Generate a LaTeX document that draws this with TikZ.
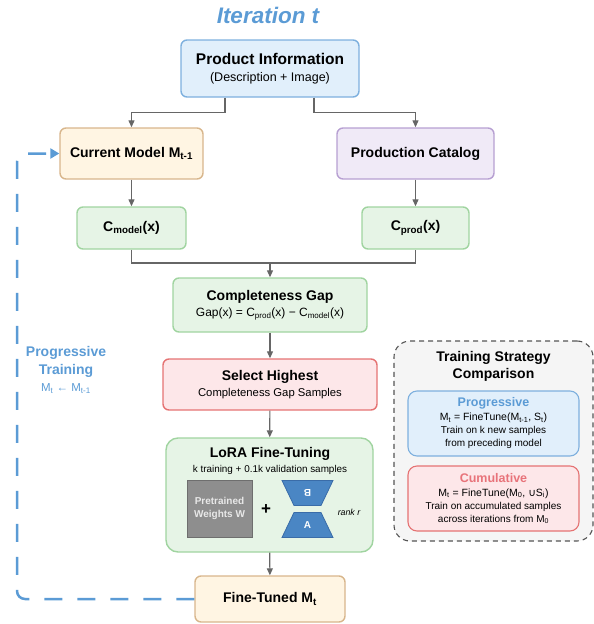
\documentclass[tikz,border=0pt]{standalone}
\usepackage{fontspec}
\setmainfont{Liberation Sans}
\newfontfamily\symfont{DejaVu Sans}
\usetikzlibrary{arrows.meta,shapes.geometric}

\definecolor{itblue}{RGB}{91,155,213}
\definecolor{flowgray}{RGB}{102,102,102}
\definecolor{infofill}{RGB}{225,239,251}
\definecolor{infoline}{RGB}{126,176,222}
\definecolor{modelfill}{RGB}{255,245,227}
\definecolor{modelline}{RGB}{216,182,140}
\definecolor{catfill}{RGB}{240,234,247}
\definecolor{catline}{RGB}{183,160,210}
\definecolor{gapfill}{RGB}{230,244,230}
\definecolor{gapline}{RGB}{160,212,160}
\definecolor{selfill}{RGB}{253,231,233}
\definecolor{selline}{RGB}{229,115,115}
\definecolor{cumred}{RGB}{232,115,122}
\definecolor{stratfill}{RGB}{245,245,245}
\definecolor{stratline}{RGB}{85,85,85}
\definecolor{wfill}{RGB}{142,142,142}
\definecolor{wline}{RGB}{110,110,110}
\definecolor{abfill}{RGB}{74,134,196}
\definecolor{abline}{RGB}{58,108,168}

\newcommand{\fsz}[2]{\fontsize{#1}{#2}\selectfont}
\newcommand{\sub}[1]{\textsubscript{#1}}

\tikzset{
  box/.style={draw,line width=1.4pt,rounded corners=6pt,align=center,inner sep=0pt},
  flow/.style={draw=flowgray,line width=1.2pt,-{Triangle[length=7pt,width=6pt]}},
  link/.style={draw=flowgray,line width=1.2pt},
  loopback/.style={draw=itblue,line width=2.5pt,dash pattern=on 18pt off 15pt,
    rounded corners=8pt,-{Triangle[length=9pt,width=10pt]}},
  lorablock/.style={trapezium,trapezium angle=65,trapezium stretches=true,
    minimum width=51pt,minimum height=25pt,inner sep=0pt,fill=abfill,draw=abline,
    line width=0.8pt,text=white,font=\fsz{10}{12}\bfseries}
}

\begin{document}
\begin{tikzpicture}[x=1pt,y=-1pt]
\useasboundingbox (0,0) rectangle (594,624);

\node (title) at (268,15) {\fsz{22.5}{26}\bfseries\itshape\color{itblue}Iteration t};

% main flow
\node[box,fill=infofill,draw=infoline,minimum width=178pt,minimum height=57pt,
  font=\fsz{12.5}{17}] (info) at (270,68.5)
  {{\fsz{15.5}{17}\bfseries Product Information}\\(Description + Image)};
\node[box,fill=modelfill,draw=modelline,minimum width=143pt,minimum height=51pt,
  font=\fsz{14}{17}\bfseries] (current) at (131.5,153.5) {Current Model M\sub{t-1}};
\node[box,fill=catfill,draw=catline,minimum width=157pt,minimum height=51pt,
  font=\fsz{14}{17}\bfseries] (catalog) at (415.5,153.5) {Production Catalog};
\node[box,fill=gapfill,draw=gapline,minimum width=109pt,minimum height=42pt,
  font=\fsz{14}{17}\bfseries] (cmodel) at (131.5,228) {C\sub{model}(x)};
\node[box,fill=gapfill,draw=gapline,minimum width=107pt,minimum height=42pt,
  font=\fsz{14}{17}\bfseries] (cprod) at (415.5,228) {C\sub{prod}(x)};
\node[box,fill=gapfill,draw=gapline,minimum width=194pt,minimum height=54pt,
  font=\fsz{12}{16}] (gap) at (270,305)
  {{\fsz{14}{16}\bfseries Completeness Gap}\\Gap(x) = C\sub{prod}(x) − C\sub{model}(x)};
\node[box,fill=selfill,draw=selline,minimum width=214pt,minimum height=51pt,
  font=\fsz{11.3}{16}] (select) at (270,384.5)
  {{\fsz{14}{16}\bfseries Select Highest}\\Completeness Gap Samples};
\node[box,fill=gapfill,draw=gapline,rounded corners=12pt,minimum width=207pt,
  minimum height=114pt] (lora) at (269.5,495) {};
\node[box,fill=modelfill,draw=modelline,minimum width=150pt,minimum height=46pt,
  font=\fsz{14}{17}\bfseries] (finetuned) at (270,599) {Fine-Tuned M\sub{t}};

% inside LoRA
\node (loratitle) at (270,454) {\fsz{14}{16}\bfseries LoRA Fine-Tuning};
\node (lorasub) at (270,470) {\fsz{9.9}{12}k training + 0.1k validation samples};
\node[fill=wfill,draw=wline,line width=0.8pt,minimum width=65pt,minimum height=57pt,
  align=center,inner sep=0pt,text={rgb,255:red,232;green,232;blue,232},
  font=\fsz{10}{12.5}\bfseries] (pretrained) at (219.5,508.5) {Pretrained\\Weights W};
\node (plus) at (266,510) {\fsz{17}{17}\bfseries +};
\node[lorablock,rotate=180] (blockB) at (307.5,493) {B};
\node[lorablock] (blockA) at (307.5,525) {A};
\node (rank) at (349,512) {\fsz{8.8}{10}\itshape rank r};

% connectors
\coordinate (merge) at (270,263);
\draw[flow] ([xshift=-45pt]info.south) -- ++(0,15) -| (current.north);
\draw[flow] ([xshift=44pt]info.south) -- ++(0,15) -| (catalog.north);
\draw[flow] (current) -- (cmodel);
\draw[flow] (catalog) -- (cprod);
\draw[link] (cmodel.south) |- (merge) -| (cprod.south);
\draw[flow] (merge) -- (gap.north);
\draw[flow] (gap) -- (select);
\draw[flow] (select) -- (lora);
\draw[flow] (lora) -- (finetuned);

% progressive loop back
\coordinate (looptop) at (17,153.5);
\draw[loopback] (finetuned.west) -| (looptop) -- (current.west);
\node[align=center,text=itblue,font=\fsz{11.5}{17.5}] (looplabel) at (66,370)
  {{\fsz{14}{17.5}\bfseries Progressive}\\{\fsz{14}{17.5}\bfseries Training}\\M\sub{t} ← M\sub{t-1}};

% strategy comparison
\node[box,fill=stratfill,draw=stratline,line width=1.1pt,dash pattern=on 5pt off 4pt,
  rounded corners=16pt,minimum width=199pt,minimum height=200pt] (strategy) at (493.5,441) {};
\node[align=center,font=\fsz{14}{17}\bfseries] (strattitle) at (493.5,366.5)
  {Training Strategy\\Comparison};
\node[box,fill=infofill,draw=infoline,line width=1.1pt,rounded corners=9pt,
  minimum width=171pt,minimum height=65pt,font=\fsz{10}{13}] (prog) at (493.5,423.5)
  {{\fsz{12.5}{15}\bfseries\color{itblue}Progressive}\\[1pt]
   {\fsz{10.5}{13}M\sub{t} = FineTune(M\sub{t-1}, S\sub{t})}\\Train on k new samples\\from preceding model};
\node[box,fill=selfill,draw=selline,line width=1.1pt,rounded corners=9pt,
  minimum width=171pt,minimum height=65pt,font=\fsz{10}{13}] (cum) at (493.5,498.5)
  {{\fsz{12.5}{15}\bfseries\color{cumred}Cumulative}\\[1pt]
   {\fsz{10.5}{13}M\sub{t} = FineTune(M\sub{0}, {\symfont ∪}S\sub{i})}\\Train on accumulated samples\\across iterations from M\sub{0}};
\end{tikzpicture}
\end{document}
